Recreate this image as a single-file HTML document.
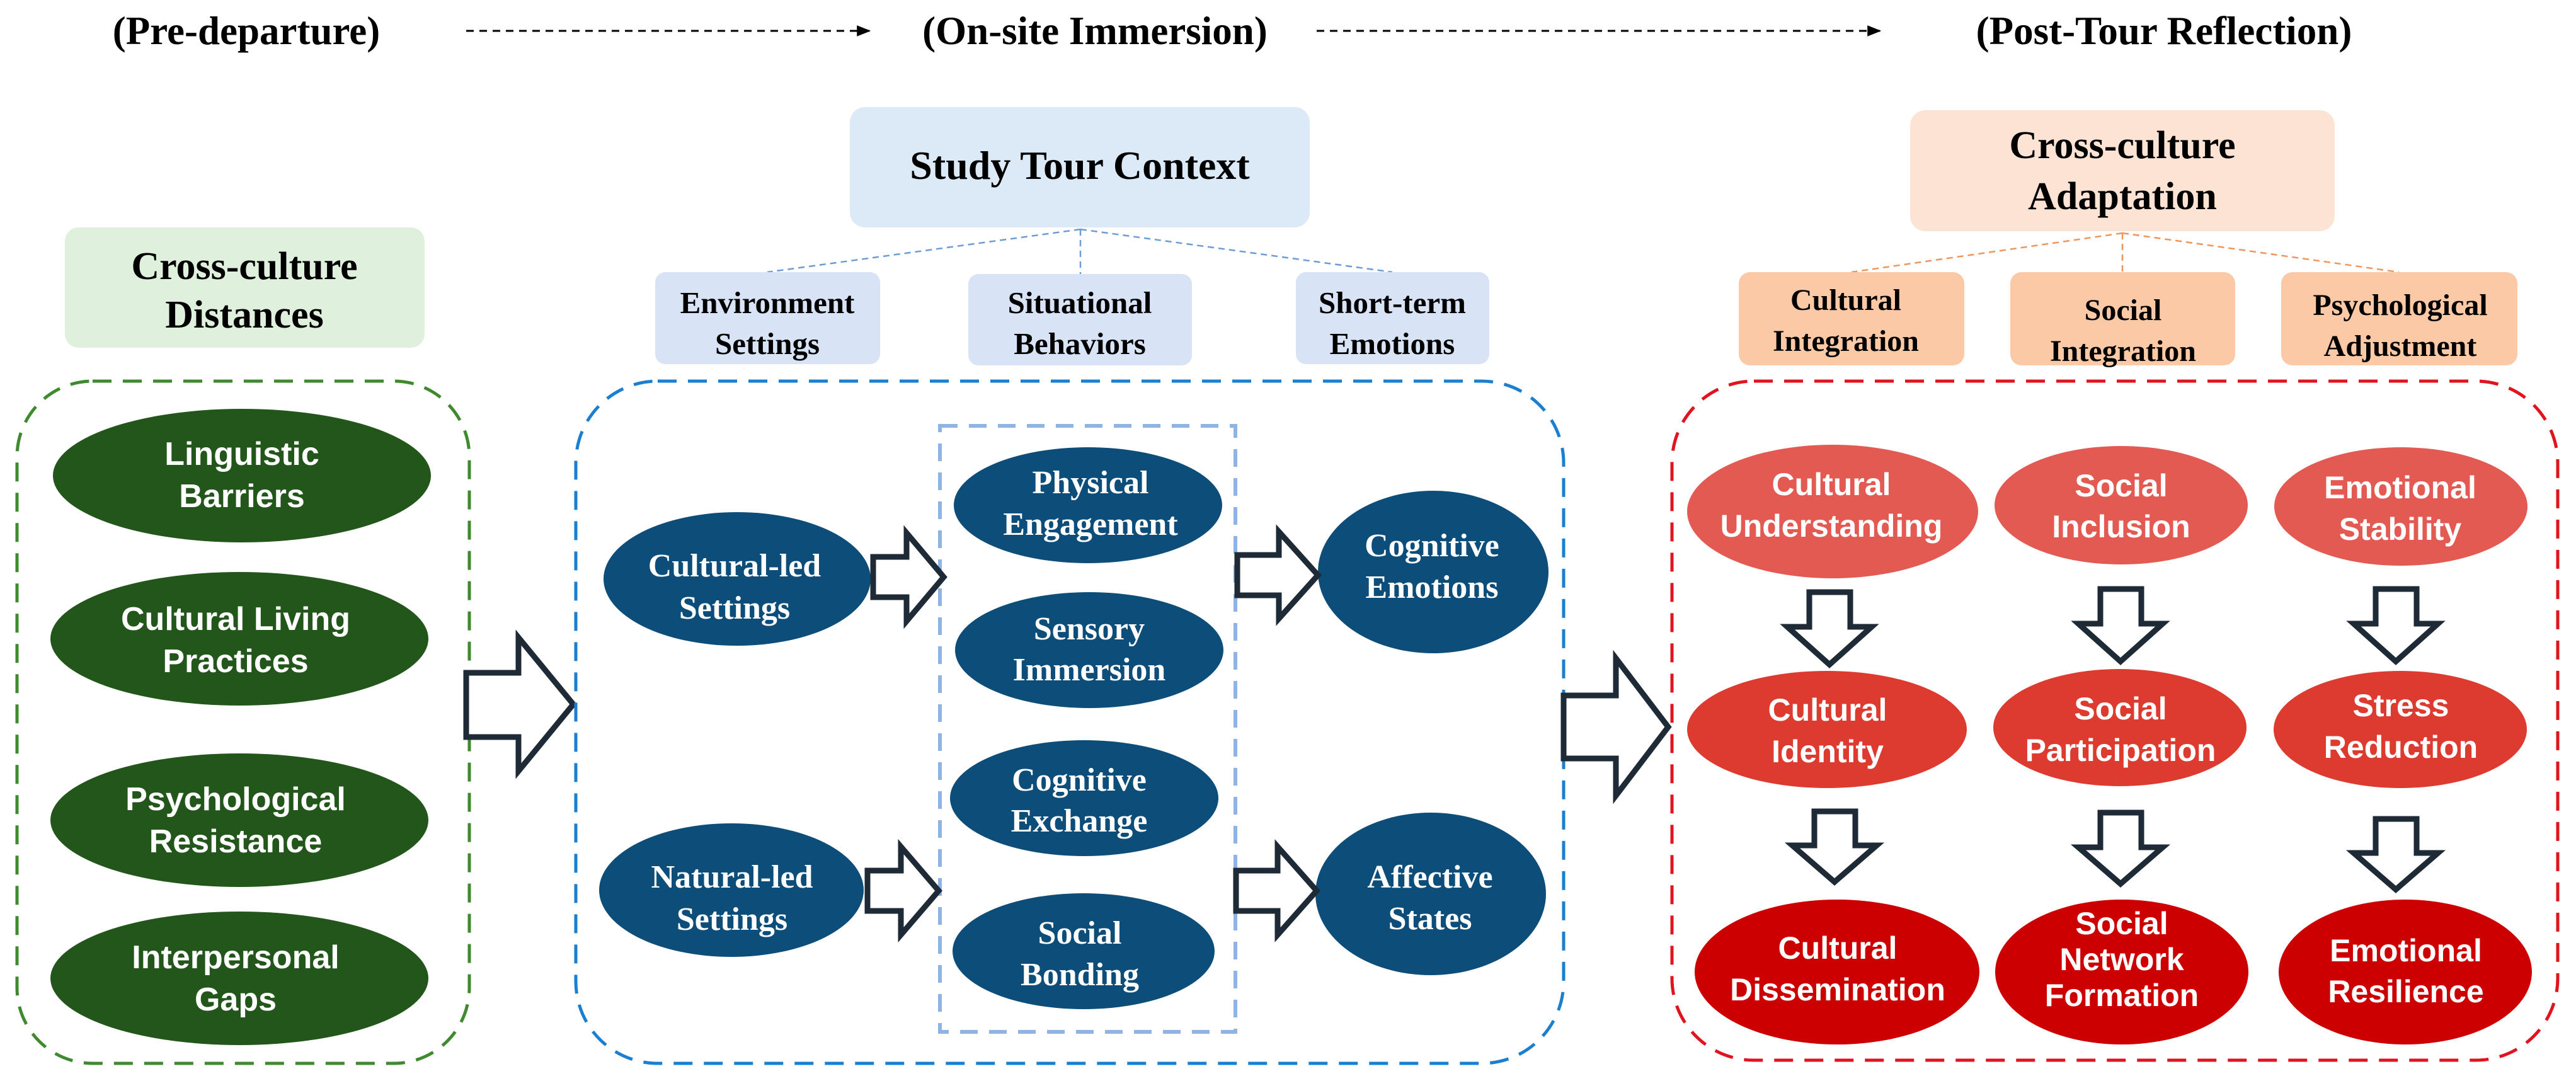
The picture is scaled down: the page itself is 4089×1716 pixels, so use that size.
<!DOCTYPE html>
<html><head><meta charset="utf-8"><style>
html,body{margin:0;padding:0;background:#fff;}
svg{display:block;}
.ti{font-family:"Liberation Serif",serif;font-weight:bold;fill:#000;}
.ss{font-family:"Liberation Sans",sans-serif;font-weight:bold;fill:#fff;}
.sf{font-family:"Liberation Serif",serif;font-weight:bold;fill:#fff;}
.ar{fill:#fff;stroke:#1e2a36;stroke-width:9;stroke-linejoin:miter;}
</style></head><body>
<svg width="4089" height="1716" viewBox="0 0 4089 1716" xmlns="http://www.w3.org/2000/svg">
<defs>
<marker id="mk" viewBox="0 0 10 10" markerWidth="22" markerHeight="22" refX="9" refY="5" orient="auto" markerUnits="userSpaceOnUse"><path d="M0,1 L10,5 L0,9 z" fill="#000"/></marker></defs>

<!-- titles -->
<text class="ti" x="391" y="70" font-size="63" text-anchor="middle">(Pre-departure)</text>
<text class="ti" x="1738" y="70" font-size="63" text-anchor="middle">(On-site Immersion)</text>
<text class="ti" x="3435" y="70" font-size="63" text-anchor="middle">(Post-Tour Reflection)</text>
<line x1="740" y1="49" x2="1380" y2="49" stroke="#000" stroke-width="3" stroke-dasharray="12,9" marker-end="url(#mk)"/>
<line x1="2090" y1="49" x2="2984" y2="49" stroke="#000" stroke-width="3" stroke-dasharray="12,9" marker-end="url(#mk)"/>

<!-- green section -->
<rect x="103" y="361" width="571" height="191" rx="22" fill="#dff0dc"/>
<text class="ti" x="388" y="443" font-size="62" text-anchor="middle">Cross-culture</text>
<text class="ti" x="388" y="520" font-size="62" text-anchor="middle">Distances</text>
<rect x="27" y="605" width="718" height="1083" rx="120" fill="none" stroke="#3f8a2e" stroke-width="5" stroke-dasharray="30,18"/>
<g fill="#22561a">
<ellipse cx="384" cy="755" rx="300" ry="106"/>
<ellipse cx="380" cy="1014" rx="300" ry="106"/>
<ellipse cx="380" cy="1302" rx="300" ry="106"/>
<ellipse cx="380" cy="1553" rx="300" ry="106"/>
</g>
<g class="ss" font-size="52" text-anchor="middle">
<text x="384" y="738">Linguistic</text><text x="384" y="805">Barriers</text>
<text x="374" y="1000">Cultural Living</text><text x="374" y="1067">Practices</text>
<text x="374" y="1286">Psychological</text><text x="374" y="1353">Resistance</text>
<text x="374" y="1537">Interpersonal</text><text x="374" y="1604">Gaps</text>
</g>
<polygon class="ar" points="740,1068 823,1068 823,1012 910,1118 823,1224 823,1170 740,1170"/>

<!-- blue section -->
<rect x="1349" y="170" width="730" height="191" rx="24" fill="#dce9f7"/>
<text class="ti" x="1714" y="284" font-size="64" text-anchor="middle">Study Tour Context</text>
<g stroke="#6d9bd6" stroke-width="2.5" stroke-dasharray="10,7" fill="none">
<line x1="1715" y1="364" x2="1218" y2="432"/>
<line x1="1715" y1="364" x2="1715" y2="435"/>
<line x1="1715" y1="364" x2="2210" y2="432"/>
</g>
<g fill="#d8e4f5">
<rect x="1040" y="432" width="357" height="146" rx="16"/>
<rect x="1537" y="435" width="355" height="145" rx="16"/>
<rect x="2057" y="432" width="307" height="146" rx="16"/>
</g>
<g class="ti" font-size="49" text-anchor="middle">
<text x="1218" y="497">Environment</text><text x="1218" y="562">Settings</text>
<text x="1714" y="497">Situational</text><text x="1714" y="562">Behaviors</text>
<text x="2210" y="497">Short-term</text><text x="2210" y="562">Emotions</text>
</g>
<rect x="914" y="605" width="1568" height="1083" rx="130" fill="none" stroke="#1a7fd0" stroke-width="5" stroke-dasharray="30,18"/>
<rect x="1492" y="676" width="469" height="962" fill="none" stroke="#8fb4e3" stroke-width="6" stroke-dasharray="28,18"/>
<g fill="#0d4d7a">
<ellipse cx="1170" cy="919" rx="212" ry="106"/>
<ellipse cx="1161" cy="1413" rx="210" ry="106"/>
<ellipse cx="1727" cy="802" rx="213" ry="92"/>
<ellipse cx="1729" cy="1032" rx="213" ry="92"/>
<ellipse cx="1721" cy="1267" rx="213" ry="92"/>
<ellipse cx="1720" cy="1510" rx="208" ry="92"/>
<ellipse cx="2275" cy="908" rx="183" ry="129"/>
<ellipse cx="2271" cy="1419" rx="183" ry="129"/>
</g>
<g class="sf" font-size="52" text-anchor="middle">
<text x="1166" y="915">Cultural-led</text><text x="1166" y="982">Settings</text>
<text x="1162" y="1409">Natural-led</text><text x="1162" y="1476">Settings</text>
<text x="1731" y="783">Physical</text><text x="1731" y="849">Engagement</text>
<text x="1729" y="1015">Sensory</text><text x="1729" y="1080">Immersion</text>
<text x="1713" y="1255">Cognitive</text><text x="1713" y="1320">Exchange</text>
<text x="1714" y="1498">Social</text><text x="1714" y="1564">Bonding</text>
<text x="2273" y="883">Cognitive</text><text x="2273" y="949">Emotions</text>
<text x="2270" y="1409">Affective</text><text x="2270" y="1475">States</text>
</g>
<polygon class="ar" points="1386,884 1439,884 1439,846 1498,916 1439,986 1439,948 1386,948"/>
<polygon class="ar" points="1377,1382 1430,1382 1430,1344 1490,1414 1430,1484 1430,1446 1377,1446"/>
<polygon class="ar" points="1964,881 2030,881 2030,844 2092,913 2030,982 2030,945 1964,945"/>
<polygon class="ar" points="1962,1382 2028,1382 2028,1344 2090,1414 2028,1484 2028,1446 1962,1446"/>
<polygon class="ar" points="2482,1104 2565,1104 2565,1045 2648,1154 2565,1263 2565,1204 2482,1204"/>

<!-- red section -->
<rect x="3032" y="175" width="674" height="192" rx="24" fill="#fde3d3"/>
<text class="ti" x="3369" y="251" font-size="62" text-anchor="middle">Cross-culture</text>
<text class="ti" x="3369" y="332" font-size="62" text-anchor="middle">Adaptation</text>
<g stroke="#f0945a" stroke-width="2.5" stroke-dasharray="10,7" fill="none">
<line x1="3369" y1="370" x2="2939" y2="432"/>
<line x1="3369" y1="370" x2="3369" y2="432"/>
<line x1="3369" y1="370" x2="3808" y2="432"/>
</g>
<g fill="#fbc9a6">
<rect x="2760" y="432" width="358" height="148" rx="18"/>
<rect x="3191" y="432" width="357" height="148" rx="18"/>
<rect x="3621" y="432" width="375" height="148" rx="18"/>
</g>
<g class="ti" font-size="48" text-anchor="middle">
<text x="2930" y="492">Cultural</text><text x="2930" y="557">Integration</text>
<text x="3370" y="508">Social</text><text x="3370" y="573">Integration</text>
<text x="3810" y="500">Psychological</text><text x="3810" y="565">Adjustment</text>
</g>
<rect x="2654" y="605" width="1406" height="1078" rx="130" fill="none" stroke="#e0141e" stroke-width="5" stroke-dasharray="30,18"/>
<g fill="#e35a52">
<ellipse cx="2909" cy="812" rx="231" ry="106"/>
<ellipse cx="3367" cy="802" rx="201" ry="94"/>
<ellipse cx="3811" cy="804" rx="201" ry="94"/>
</g>
<g fill="#dd3a30">
<ellipse cx="2900" cy="1158" rx="222" ry="93"/>
<ellipse cx="3365" cy="1155" rx="201" ry="93"/>
<ellipse cx="3810" cy="1158" rx="201" ry="93"/>
</g>
<g fill="#cc0000">
<ellipse cx="2916" cy="1543" rx="226" ry="115"/>
<ellipse cx="3368" cy="1543" rx="201" ry="115"/>
<ellipse cx="3818" cy="1543" rx="201" ry="115"/>
</g>
<g class="ss" font-size="50" text-anchor="middle">
<text x="2907" y="786">Cultural</text><text x="2907" y="852">Understanding</text>
<text x="3367" y="788">Social</text><text x="3367" y="853">Inclusion</text>
<text x="3810" y="791">Emotional</text><text x="3810" y="857">Stability</text>
<text x="2901" y="1144">Cultural</text><text x="2901" y="1210">Identity</text>
<text x="3366" y="1142">Social</text><text x="3366" y="1208">Participation</text>
<text x="3811" y="1137">Stress</text><text x="3811" y="1203">Reduction</text>
<text x="2917" y="1522">Cultural</text><text x="2917" y="1588">Dissemination</text>
<text x="3368" y="1483">Social</text><text x="3368" y="1540">Network</text><text x="3368" y="1597">Formation</text>
<text x="3819" y="1526">Emotional</text><text x="3819" y="1591">Resilience</text>
</g>
<g class="ar">
<polygon points="2872,940 2937,940 2937,995 2971,995 2904,1055 2837,995 2872,995"/>
<polygon points="3334,935 3399,935 3399,990 3433,990 3366,1050 3299,990 3334,990"/>
<polygon points="3771,935 3836,935 3836,990 3870,990 3803,1050 3736,990 3771,990"/>
<polygon points="2880,1288 2945,1288 2945,1342 2979,1342 2912,1400 2845,1342 2880,1342"/>
<polygon points="3334,1290 3399,1290 3399,1345 3433,1345 3366,1403 3299,1345 3334,1345"/>
<polygon points="3771,1300 3836,1300 3836,1354 3870,1354 3803,1412 3736,1354 3771,1354"/>
</g>
</svg>
</body></html>
